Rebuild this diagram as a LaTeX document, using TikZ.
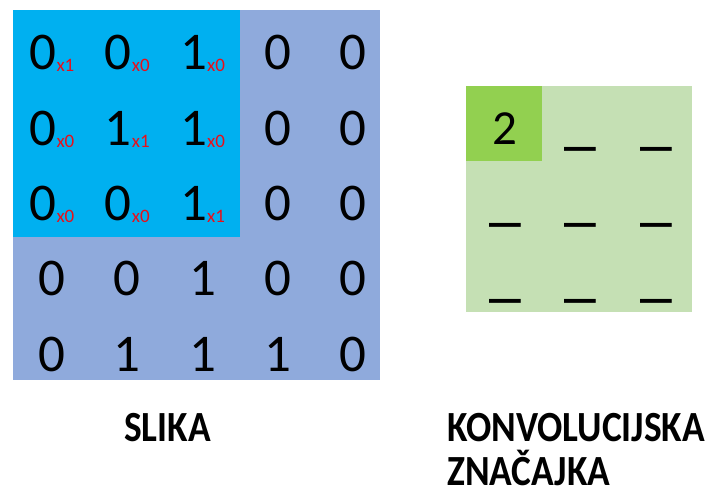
\documentclass[tikz,border=0pt]{standalone}
\usepackage{fontspec}
\setmainfont{Carlito}
\newfontfamily\labelfont{Carlito}[FakeStretch=0.87]
\usepackage{xcolor}
\usepackage{graphicx}
\usetikzlibrary{positioning}
\definecolor{slikabg}{HTML}{8FAADC}
\definecolor{filterbg}{HTML}{00B0F0}
\definecolor{featbg}{HTML}{C5E0B4}
\definecolor{featdark}{HTML}{92D050}
\definecolor{wred}{HTML}{E8101A}
\newcommand{\wsub}[1]{\textcolor{wred}{\fontsize{19}{19}\selectfont\raisebox{-2pt}{x#1}}}
\newcommand{\blank}{\scalebox{1.3}[1]{\bfseries\_}}
\tikzset{
  digit/.style={anchor=base, inner sep=0pt, font=\fontsize{53}{53}\selectfont},
  fdigit/.style={digit, font=\fontsize{49}{49}\selectfont},
  lbl/.style={inner sep=0pt, align=left, font=\labelfont\bfseries\fontsize{43}{44}\selectfont},
}
\begin{document}
\begin{tikzpicture}[x=1pt, y=-1pt]
  \useasboundingbox (0,0) rectangle (715,489);
  % image and filter window
  \fill[slikabg] (13,10) rectangle (380,380);
  \fill[filterbg] (13,10) rectangle (240,237);
  \foreach \r/\vals in {1/{0/1,0/0,1/0}, 2/{0/0,1/1,1/0}, 3/{0/0,0/0,1/1}} {
    \foreach \v/\w [count=\c] in \vals
      \node[digit] (s-\r-\c) at ({52+75.3*(\c-1)},{70+75.3*(\r-1)}) {\v\wsub{\w}};
    \foreach \c in {4,5}
      \node[digit] (s-\r-\c) at ({52+75.3*(\c-1)},{70+75.3*(\r-1)}) {0};
  }
  \foreach \r/\vals in {4/{0,0,1,0,0}, 5/{0,1,1,1,0}}
    \foreach \v [count=\c] in \vals
      \node[digit] (s-\r-\c) at ({52+75.3*(\c-1)},{70+75.3*(\r-1)}) {\v};
  % feature map
  \fill[featbg] (466,86) rectangle (692,312);
  \fill[featdark] (466,86) rectangle (542,161);
  \node[fdigit] (f-1-1) at (505,145) {2};
  \foreach \r/\c in {1/2,1/3,2/1,2/2,2/3,3/1,3/2,3/3}
    \node[fdigit] (f-\r-\c) at ({505+75.5*(\c-1)},{145+75.5*(\r-1)}) {\blank};
  % labels
  \node[lbl, anchor=north west] (slika) at (124,413) {SLIKA};
  \node[lbl, anchor=north west] (znacajka) at (447,413) {KONVOLUCIJSKA\\ZNAČAJKA};
\end{tikzpicture}
\end{document}
